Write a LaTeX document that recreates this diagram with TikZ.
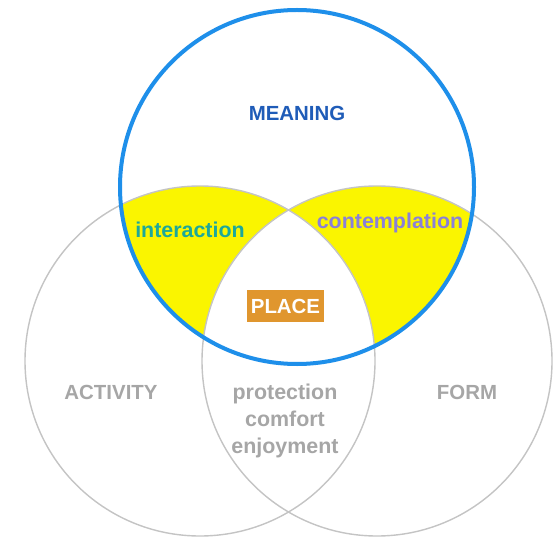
\documentclass[tikz,border=0pt]{standalone}
\usepackage{fontspec}
\setmainfont{Liberation Sans}
\begin{document}
\definecolor{ringblue}{HTML}{1E8FEA}
\definecolor{meaningblue}{HTML}{1F5CB8}
\definecolor{ringgray}{HTML}{C4C4C4}
\definecolor{labelgray}{HTML}{A6A6A6}
\definecolor{lensyellow}{HTML}{FAF500}
\definecolor{tealtext}{HTML}{1CA89A}
\definecolor{lavender}{HTML}{8A80D8}
\definecolor{placeorange}{HTML}{E0962E}
\begin{tikzpicture}[x=1bp,y=-1bp,
  lbl/.style={font=\fontsize{20.5}{27}\selectfont\bfseries, inner sep=0pt, align=center},
  lowlbl/.style={lbl, font=\fontsize{21.5}{27}\selectfont\bfseries},
  ring/.style={draw=ringgray, line width=1.4bp},
  bluering/.style={draw=ringblue, line width=4bp}]
\useasboundingbox (0,0) rectangle (560,542);
\fill[white] (0,0) rectangle (560,542);
% circle centres
\coordinate (cm) at (297,187);
\coordinate (ca) at (200,361);
\coordinate (cf) at (377,361);
% yellow lenses: inside MEANING, in exactly one of ACTIVITY / FORM
\begin{scope}
  \clip (cm) circle (177);
  \fill[lensyellow, even odd rule] (ca) circle (175) (cf) circle (175);
\end{scope}
% outlines
\draw[ring] (ca) circle (175);
\draw[ring] (cf) circle (175);
\draw[bluering] (cm) circle (177);
% labels
\node[lbl, text=meaningblue] (meaning) at (297,113) {MEANING};
\node[lowlbl, text=tealtext] (interaction) at (190,230) {interaction};
\node[lowlbl, text=lavender] (contemplation) at (390,223) {contemplation};
\node[lbl, text=white, fill=placeorange, minimum width=77bp, minimum height=32bp] (place) at (285.5,306) {PLACE};
\node[lbl, text=labelgray] (activity) at (111,392) {ACTIVITY};
\node[lbl, text=labelgray] (form) at (467,392) {FORM};
\node[lowlbl, text=labelgray] (qualities) at (285,421) {protection\\comfort\\enjoyment};
\end{tikzpicture}
\end{document}
